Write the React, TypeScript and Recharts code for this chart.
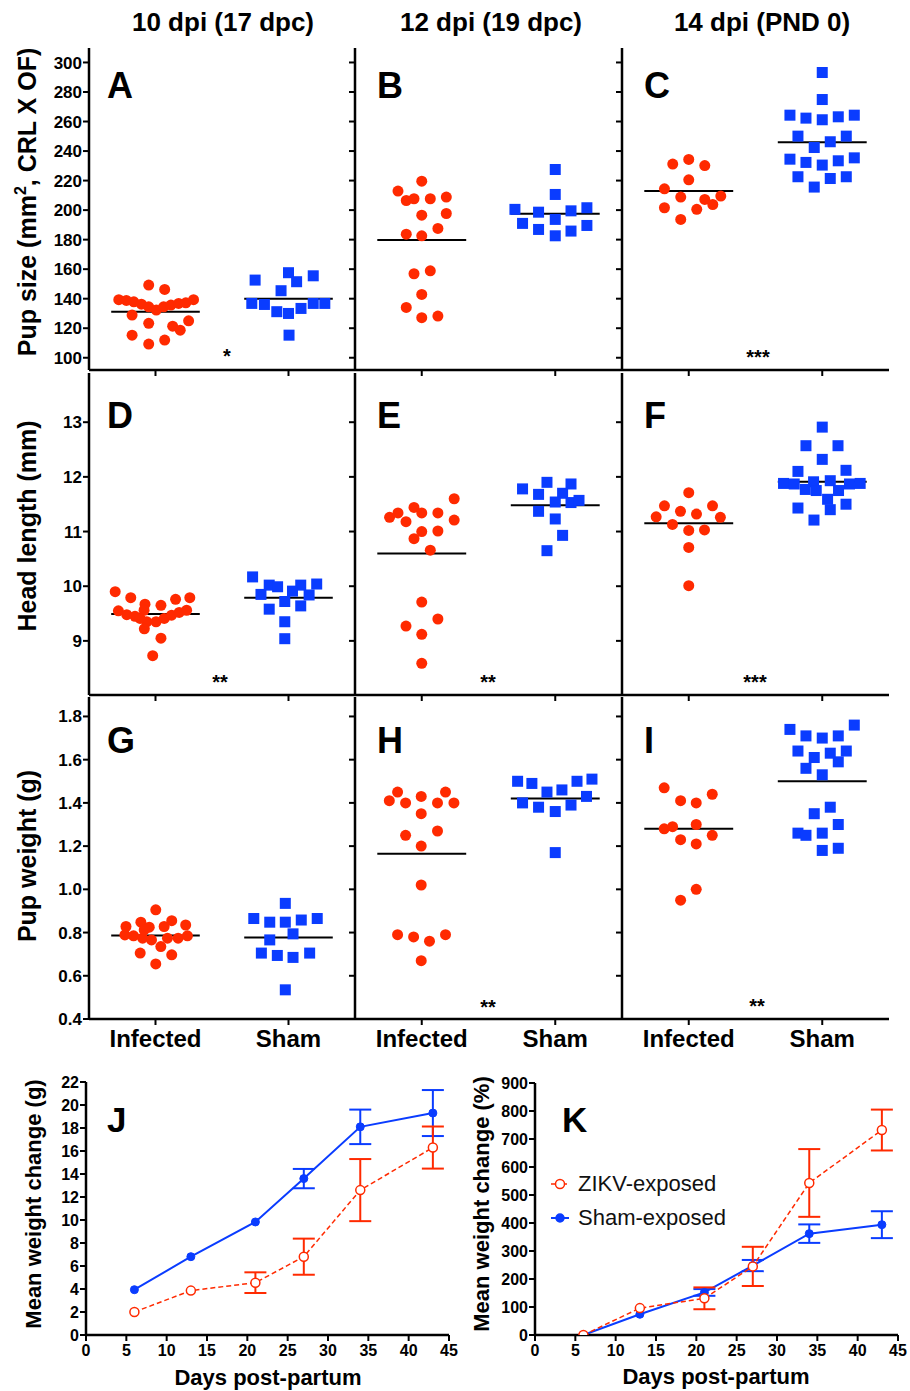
import React from 'react';
import {
  ScatterChart, Scatter, XAxis, YAxis, ReferenceLine,
  LineChart, Line, ErrorBar, Legend,
} from 'recharts';

const RED = '#ff2a00';
const BLUE = '#0a3cff';
const FONT = '"Liberation Sans", Arial, Helvetica, sans-serif';

type P = [number, number];

// ---------- categories / ticks ----------
const groups = ['Infected', 'Sham'];
const columnTitles = ['10 dpi (17 dpc)', '12 dpi (19 dpc)', '14 dpi (PND 0)'];
const sizeTicks = [100, 120, 140, 160, 180, 200, 220, 240, 260, 280, 300];
const headTicks = [9, 10, 11, 12, 13];
const weightTicks = [0.4, 0.6, 0.8, 1.0, 1.2, 1.4, 1.6, 1.8];
const dayTicks = [0, 5, 10, 15, 20, 25, 30, 35, 40, 45];
const gramTicks = [0, 2, 4, 6, 8, 10, 12, 14, 16, 18, 20, 22];
const pctTicks = [0, 100, 200, 300, 400, 500, 600, 700, 800, 900];

// ---------- pup size (mm²) ----------
const sizeInf10: P[] = [[0.724,139.3],[0.781,138.8],[0.837,137.9],[0.894,136.3],[0.949,134.5],[1.006,132.3],[1.061,134.5],[1.116,135.7],[1.174,136.8],[1.228,137.2],[1.286,139.3],[0.949,149.2],[1.069,146.3],[0.824,128.9],[0.949,123.3],[1.249,125.0],[1.129,121.4],[1.186,118.7],[0.824,115.3],[0.949,109.3],[1.069,112.0]];
const sizeSham10: P[] = [[1.749,152.6],[2.0,157.6],[2.061,151.5],[2.186,155.5],[1.944,145.4],[1.724,136.8],[1.819,136.1],[1.912,131.2],[2.0,130.0],[2.094,133.4],[2.186,136.8],[2.273,136.8],[2.004,115.3]];
const sizeInf12: P[] = [[1.0,219.6],[0.822,212.9],[0.884,206.5],[0.942,207.7],[1.064,207.7],[1.184,208.8],[1.0,196.6],[1.184,197.7],[1.121,187.6],[0.884,183.7],[1.0,182.6],[0.942,156.9],[1.064,158.9],[1.0,142.9],[0.884,134.1],[1.0,127.1],[1.121,128.2]];
const sizeSham12: P[] = [[2.0,227.5],[2.0,210.6],[1.698,200.5],[1.875,198.6],[2.118,199.5],[2.237,201.6],[2.0,193.7],[1.755,191.0],[1.875,186.9],[2.0,182.6],[2.118,185.8],[2.237,189.6]];
const sizeInf14: P[] = [[0.88,231.2],[1.0,234.3],[1.12,230.2],[1.0,220.5],[0.818,214.4],[0.94,208.8],[1.12,207.2],[1.24,209.5],[1.18,203.8],[0.818,201.6],[1.06,200.5],[0.94,193.7]];
const sizeSham14: P[] = [[2.0,293.2],[2.0,274.9],[1.758,264.3],[1.878,262.3],[2.0,261.2],[2.12,263.2],[2.24,264.3],[1.818,250.1],[2.06,246.3],[2.18,250.1],[1.94,242.4],[1.758,234.5],[1.878,232.3],[2.0,230.5],[2.12,233.4],[2.24,235.4],[1.818,222.6],[2.06,221.4],[2.18,222.6],[1.94,215.6]];
const sizeMeanInf = [131.2, 179.7, 212.9];
const sizeMeanSham = [140.0, 197.5, 246.0];

// ---------- head length (mm) ----------
const headInf10: P[] = [[0.697,9.90],[0.814,9.79],[0.921,9.67],[1.041,9.65],[1.151,9.76],[1.258,9.79],[0.721,9.55],[0.784,9.48],[0.846,9.45],[0.914,9.56],[0.934,9.35],[1.004,9.35],[1.066,9.41],[1.121,9.47],[1.178,9.52],[1.234,9.56],[0.916,9.22],[1.041,9.05],[0.979,8.73],[0.884,9.41]];
const headSham10: P[] = [[1.73,10.17],[1.855,10.02],[1.918,9.99],[2.092,10.02],[2.212,10.04],[1.793,9.85],[2.03,9.91],[2.155,9.84],[1.972,9.72],[1.855,9.58],[2.092,9.64],[1.972,9.35],[1.972,9.04]];
const headInf12: P[] = [[1.243,11.60],[0.759,11.26],[0.822,11.34],[0.942,11.44],[1.0,11.34],[1.121,11.34],[0.882,11.18],[1.243,11.21],[1.0,11.00],[1.121,11.01],[0.942,10.87],[1.064,10.66],[1.0,9.71],[1.121,9.40],[0.882,9.27],[1.0,9.12],[1.0,8.59]];
const headSham12: P[] = [[1.755,11.78],[1.938,11.90],[2.118,11.87],[1.875,11.68],[2.055,11.70],[2.0,11.54],[2.118,11.53],[2.178,11.57],[1.875,11.37],[2.0,11.23],[2.055,10.93],[1.938,10.65]];
const headInf14: P[] = [[1.0,11.71],[0.818,11.47],[1.178,11.47],[0.938,11.37],[1.058,11.32],[0.756,11.27],[1.237,11.26],[0.878,11.13],[1.0,11.02],[1.118,11.03],[1.0,10.71],[1.0,10.01]];
const headSham14: P[] = [[2.0,12.91],[1.878,12.57],[2.118,12.57],[2.0,12.32],[1.818,12.10],[2.178,12.12],[1.71,11.88],[1.79,11.87],[1.935,11.91],[2.06,11.93],[2.204,11.87],[2.284,11.88],[1.873,11.77],[1.955,11.75],[2.122,11.75],[2.04,11.59],[1.818,11.43],[2.06,11.40],[2.178,11.50],[1.938,11.21]];
const headMeanInf = [9.49, 10.60, 11.15];
const headMeanSham = [9.79, 11.48, 11.91];

// ---------- pup weight (g) ----------
const weightInf10: P[] = [[1.002,0.905],[0.778,0.828],[0.89,0.848],[0.953,0.825],[1.065,0.828],[1.122,0.855],[1.227,0.835],[0.77,0.789],[0.835,0.785],[0.903,0.774],[0.97,0.766],[1.09,0.774],[1.17,0.774],[1.24,0.785],[1.04,0.735],[0.885,0.705],[1.122,0.697],[1.002,0.655],[0.915,0.812]];
const weightSham10: P[] = [[1.976,0.935],[1.739,0.865],[1.859,0.848],[1.976,0.848],[2.096,0.858],[2.216,0.865],[2.034,0.794],[1.859,0.766],[1.796,0.705],[1.916,0.694],[2.034,0.685],[2.159,0.705],[1.976,0.535]];
const weightInf12: P[] = [[0.819,1.45],[1.178,1.45],[0.757,1.41],[0.879,1.40],[0.996,1.43],[1.118,1.40],[1.241,1.40],[0.996,1.35],[0.879,1.25],[1.118,1.27],[0.996,1.20],[0.996,1.02],[0.819,0.79],[0.939,0.78],[1.058,0.76],[1.178,0.79],[0.996,0.67]];
const weightSham12: P[] = [[1.718,1.50],[1.825,1.49],[2.163,1.50],[2.275,1.51],[1.938,1.45],[2.05,1.46],[2.234,1.43],[1.755,1.40],[1.875,1.38],[2.0,1.36],[2.118,1.39],[2.0,1.17]];
const weightInf14: P[] = [[0.816,1.47],[1.176,1.44],[0.939,1.41],[1.056,1.40],[0.816,1.28],[0.879,1.29],[1.056,1.30],[1.176,1.25],[0.939,1.23],[1.056,1.21],[1.056,1.00],[0.939,0.95]];
const weightSham14: P[] = [[1.758,1.74],[2.24,1.76],[1.878,1.71],[2.0,1.70],[2.12,1.71],[1.818,1.64],[2.06,1.63],[2.18,1.64],[1.94,1.61],[2.12,1.59],[1.878,1.56],[2.0,1.53],[2.06,1.38],[1.94,1.35],[2.12,1.30],[1.818,1.26],[1.878,1.25],[2.0,1.26],[2.0,1.18],[2.12,1.19]];
const weightMeanInf = [0.786, 1.165, 1.28];
const weightMeanSham = [0.777, 1.42, 1.50];

// ---------- post-partum growth ----------
const days = [6, 13, 21, 27, 34, 43];
const gramsZikv = [2.0, 3.86, 4.55, 6.81, 12.6, 16.3];
const gramsZikvErr = [null, null, 0.9, 1.57, 2.7, 1.83];
const gramsSham = [3.94, 6.81, 9.83, 13.6, 18.1, 19.3];
const gramsShamErr = [null, null, null, 0.84, 1.5, 2.0];
const pctZikv = [0, 96, 131, 245, 543, 732];
const pctZikvErr = [null, null, 39, 70, 121, 73];
const pctSham = [0, 74, 152, 248, 362, 394];
const pctShamErr = [null, null, 12, 20, 33, 48];

// ---------- layout ----------
const colX = [89, 355, 622];
const colW = [266, 267, 267];
const rowTop = [48, 373, 697];
const rowH = 322;
const HALF = 0.333;

const axisLine = { stroke: '#000', strokeWidth: 2.5 };
const tickLine = { stroke: '#000', strokeWidth: 2 };

const circleShape = (p: any) => <circle cx={p.cx} cy={p.cy} r={5.5} fill={RED} />;
const squareShape = (p: any) => <rect x={p.cx - 5.5} y={p.cy - 5.5} width={11} height={11} fill={BLUE} />;

const toPts = (a: P[]) => a.map(([x, y]) => ({ x, y }));

function DotPanel(props: {
  col: number; row: number; domain: [number, number]; ticks: number[];
  fmt: (v: number) => string; inf: P[]; sham: P[]; mInf: number; mSham: number;
}) {
  const { col, row, domain, ticks, fmt, inf, sham, mInf, mSham } = props;
  const LM = 50, RM = 2;
  const xLabels = row === 2;
  const yLabels = col === 0;
  const BM = xLabels ? 45 : 10;
  const w = colW[col];
  return (
    <div style={{ position: 'absolute', left: colX[col] - LM, top: rowTop[row] }}>
      <ScatterChart width={LM + w + RM} height={rowH + BM} margin={{ top: 0, right: RM, bottom: 0, left: 0 }}>
        <XAxis type="number" dataKey="x" domain={[0.5, 2.5]} ticks={[1, 2]} allowDataOverflow interval={0}
          height={BM} axisLine={axisLine} tickLine={tickLine} tickSize={6} tickMargin={5}
          tick={{ fill: '#000', fontSize: 24, fontWeight: 700 }}
          tickFormatter={(v: number) => (xLabels ? groups[Math.round(v) - 1] : '')} />
        <YAxis type="number" dataKey="y" domain={domain} ticks={ticks} allowDataOverflow interval={0}
          width={LM} axisLine={axisLine} tickLine={tickLine} tickSize={6} tickMargin={1}
          tick={{ fill: '#000', fontSize: 17, fontWeight: 700 }}
          tickFormatter={(v: number) => (yLabels ? fmt(v) : '')} />
        <Scatter data={toPts(inf)} shape={circleShape} isAnimationActive={false} />
        <Scatter data={toPts(sham)} shape={squareShape} isAnimationActive={false} />
        <ReferenceLine segment={[{ x: 1 - HALF, y: mInf }, { x: 1 + HALF, y: mInf }]} stroke="#000" strokeWidth={2} />
        <ReferenceLine segment={[{ x: 2 - HALF, y: mSham }, { x: 2 + HALF, y: mSham }]} stroke="#000" strokeWidth={2} />
      </ScatterChart>
    </div>
  );
}

const gramsData = days.map((d, i) => ({ day: d, zikv: gramsZikv[i], zikvErr: gramsZikvErr[i], sham: gramsSham[i], shamErr: gramsShamErr[i] }));
const pctData = days.map((d, i) => ({ day: d, zikv: pctZikv[i], zikvErr: pctZikvErr[i], sham: pctSham[i], shamErr: pctShamErr[i] }));

function LegendBox() {
  const row = (label: string, color: string, dashed: boolean, open: boolean) => (
    <div style={{ display: 'flex', alignItems: 'center', height: 34 }}>
      <svg width={20} height={20}>
        <line x1={1} y1={10} x2={19} y2={10} stroke={color} strokeWidth={dashed ? 1.5 : 2} strokeDasharray={dashed ? '4 2' : undefined} />
        <circle cx={10} cy={10} r={open ? 4.5 : 4} fill={open ? '#fff' : color} stroke={color} strokeWidth={1.5} />
      </svg>
      <span style={{ marginLeft: 8, fontSize: 22, color: '#111', fontFamily: FONT, whiteSpace: 'nowrap' }}>{label}</span>
    </div>
  );
  return (
    <div>
      {row('ZIKV-exposed', RED, true, true)}
      {row('Sham-exposed', BLUE, false, false)}
    </div>
  );
}

function GrowthPanel(props: { left: number; top: number; plotH: number; data: any[]; domain: [number, number]; ticks: number[]; legend?: boolean }) {
  const { left, top, plotH, data, domain, ticks, legend } = props;
  const LM = 60, RM = 15, TM = 12, BM = 35;
  return (
    <div style={{ position: 'absolute', left: left - LM, top: top - TM }}>
      <LineChart width={LM + 363 + RM} height={TM + plotH + BM} data={data} margin={{ top: TM, right: RM, bottom: 0, left: 0 }}>
        <XAxis type="number" dataKey="day" domain={[0, 45]} ticks={dayTicks} interval={0} allowDataOverflow
          height={BM} axisLine={axisLine} tickLine={tickLine} tickSize={6} tickMargin={4}
          tick={{ fill: '#000', fontSize: 16, fontWeight: 700 }} />
        <YAxis type="number" domain={domain} ticks={ticks} interval={0} allowDataOverflow
          width={LM} axisLine={axisLine} tickLine={tickLine} tickSize={6} tickMargin={1}
          tick={{ fill: '#000', fontSize: 16, fontWeight: 700 }} />
        <Line dataKey="sham" stroke={BLUE} strokeWidth={2} isAnimationActive={false}
          dot={{ r: 4, fill: BLUE, stroke: BLUE, strokeWidth: 1 }}>
          <ErrorBar dataKey="shamErr" width={11} strokeWidth={2} stroke={BLUE} direction="y" />
        </Line>
        <Line dataKey="zikv" stroke={RED} strokeWidth={1.5} strokeDasharray="5 3" isAnimationActive={false}
          dot={{ r: 4.5, fill: '#fff', stroke: RED, strokeWidth: 1.5, strokeDasharray: '' }}>
          <ErrorBar dataKey="zikvErr" width={11} strokeWidth={2} stroke={RED} direction="y" />
        </Line>
        {legend && (
          <Legend layout="vertical" align="center" verticalAlign="middle" content={() => <LegendBox />}
            wrapperStyle={{ left: 75, top: 96, width: 300, height: 68 }} />
        )}
      </LineChart>
    </div>
  );
}

const rows = [
  { domain: [91.7, 309.8] as [number, number], ticks: sizeTicks, fmt: (v: number) => String(v), inf: [sizeInf10, sizeInf12, sizeInf14], sham: [sizeSham10, sizeSham12, sizeSham14], mInf: sizeMeanInf, mSham: sizeMeanSham },
  { domain: [8.01, 13.9] as [number, number], ticks: headTicks, fmt: (v: number) => String(v), inf: [headInf10, headInf12, headInf14], sham: [headSham10, headSham12, headSham14], mInf: headMeanInf, mSham: headMeanSham },
  { domain: [0.4, 1.89] as [number, number], ticks: weightTicks, fmt: (v: number) => v.toFixed(1), inf: [weightInf10, weightInf12, weightInf14], sham: [weightSham10, weightSham12, weightSham14], mInf: weightMeanInf, mSham: weightMeanSham },
];

const letters = ['A', 'B', 'C', 'D', 'E', 'F', 'G', 'H', 'I'];
const letterX = [107, 377, 644];
const letterY = [98, 428, 753];
const stars = [
  { t: '*', x: 227, y: 363 }, { t: '***', x: 758, y: 364 },
  { t: '**', x: 220, y: 689 }, { t: '**', x: 488, y: 689 }, { t: '***', x: 755, y: 689 },
  { t: '**', x: 488, y: 1014 }, { t: '**', x: 757, y: 1013 },
];

export default function App() {
  return (
    <div style={{ position: 'absolute', left: 0, top: 0, width: 910, height: 1391, background: '#fff', fontFamily: FONT, overflow: 'hidden' }}>
      {rows.map((r, ri) => [0, 1, 2].map((ci) => (
        <DotPanel key={`${ri}-${ci}`} col={ci} row={ri} domain={r.domain} ticks={r.ticks} fmt={r.fmt}
          inf={r.inf[ci]} sham={r.sham[ci]} mInf={r.mInf[ci]} mSham={r.mSham[ci]} />
      )))}
      <GrowthPanel left={86} top={1082} plotH={253} data={gramsData} domain={[0, 22]} ticks={gramTicks} />
      <GrowthPanel left={535} top={1083} plotH={252} data={pctData} domain={[0, 900]} ticks={pctTicks} legend />
      <svg width={910} height={1391} style={{ position: 'absolute', left: 0, top: 0, pointerEvents: 'none' }}
        fontFamily={FONT} fill="#000">
        {columnTitles.map((t, i) => (
          <text key={t} x={[223, 491, 762][i]} y={31} textAnchor="middle" fontSize={26} fontWeight={700}>{t}</text>
        ))}
        {letters.map((l, i) => (
          <text key={l} x={letterX[i % 3]} y={letterY[Math.floor(i / 3)]} fontSize={36} fontWeight={700}>{l}</text>
        ))}
        <text x={107} y={1132} fontSize={35} fontWeight={700}>J</text>
        <text x={562} y={1132} fontSize={35} fontWeight={700}>K</text>
        <text transform="translate(36,202) rotate(-90)" textAnchor="middle" fontSize={25} fontWeight={700}>
          Pup size (mm<tspan dy={-10} fontSize={16}>2</tspan><tspan dy={10}>, CRL X OF)</tspan>
        </text>
        <text transform="translate(36,526) rotate(-90)" textAnchor="middle" fontSize={25} fontWeight={700}>Head length (mm)</text>
        <text transform="translate(36,856) rotate(-90)" textAnchor="middle" fontSize={25} fontWeight={700}>Pup weight (g)</text>
        <text transform="translate(41,1204) rotate(-90)" textAnchor="middle" fontSize={22} fontWeight={700}>Mean weight change (g)</text>
        <text transform="translate(489,1204) rotate(-90)" textAnchor="middle" fontSize={22} fontWeight={700}>Mean weight change (%)</text>
        <text x={268} y={1385} textAnchor="middle" fontSize={22} fontWeight={700}>Days post-partum</text>
        <text x={716} y={1384} textAnchor="middle" fontSize={22} fontWeight={700}>Days post-partum</text>
        {stars.map((s, i) => (
          <text key={i} x={s.x} y={s.y} textAnchor="middle" fontSize={20} fontWeight={700}>{s.t}</text>
        ))}
      </svg>
    </div>
  );
}
